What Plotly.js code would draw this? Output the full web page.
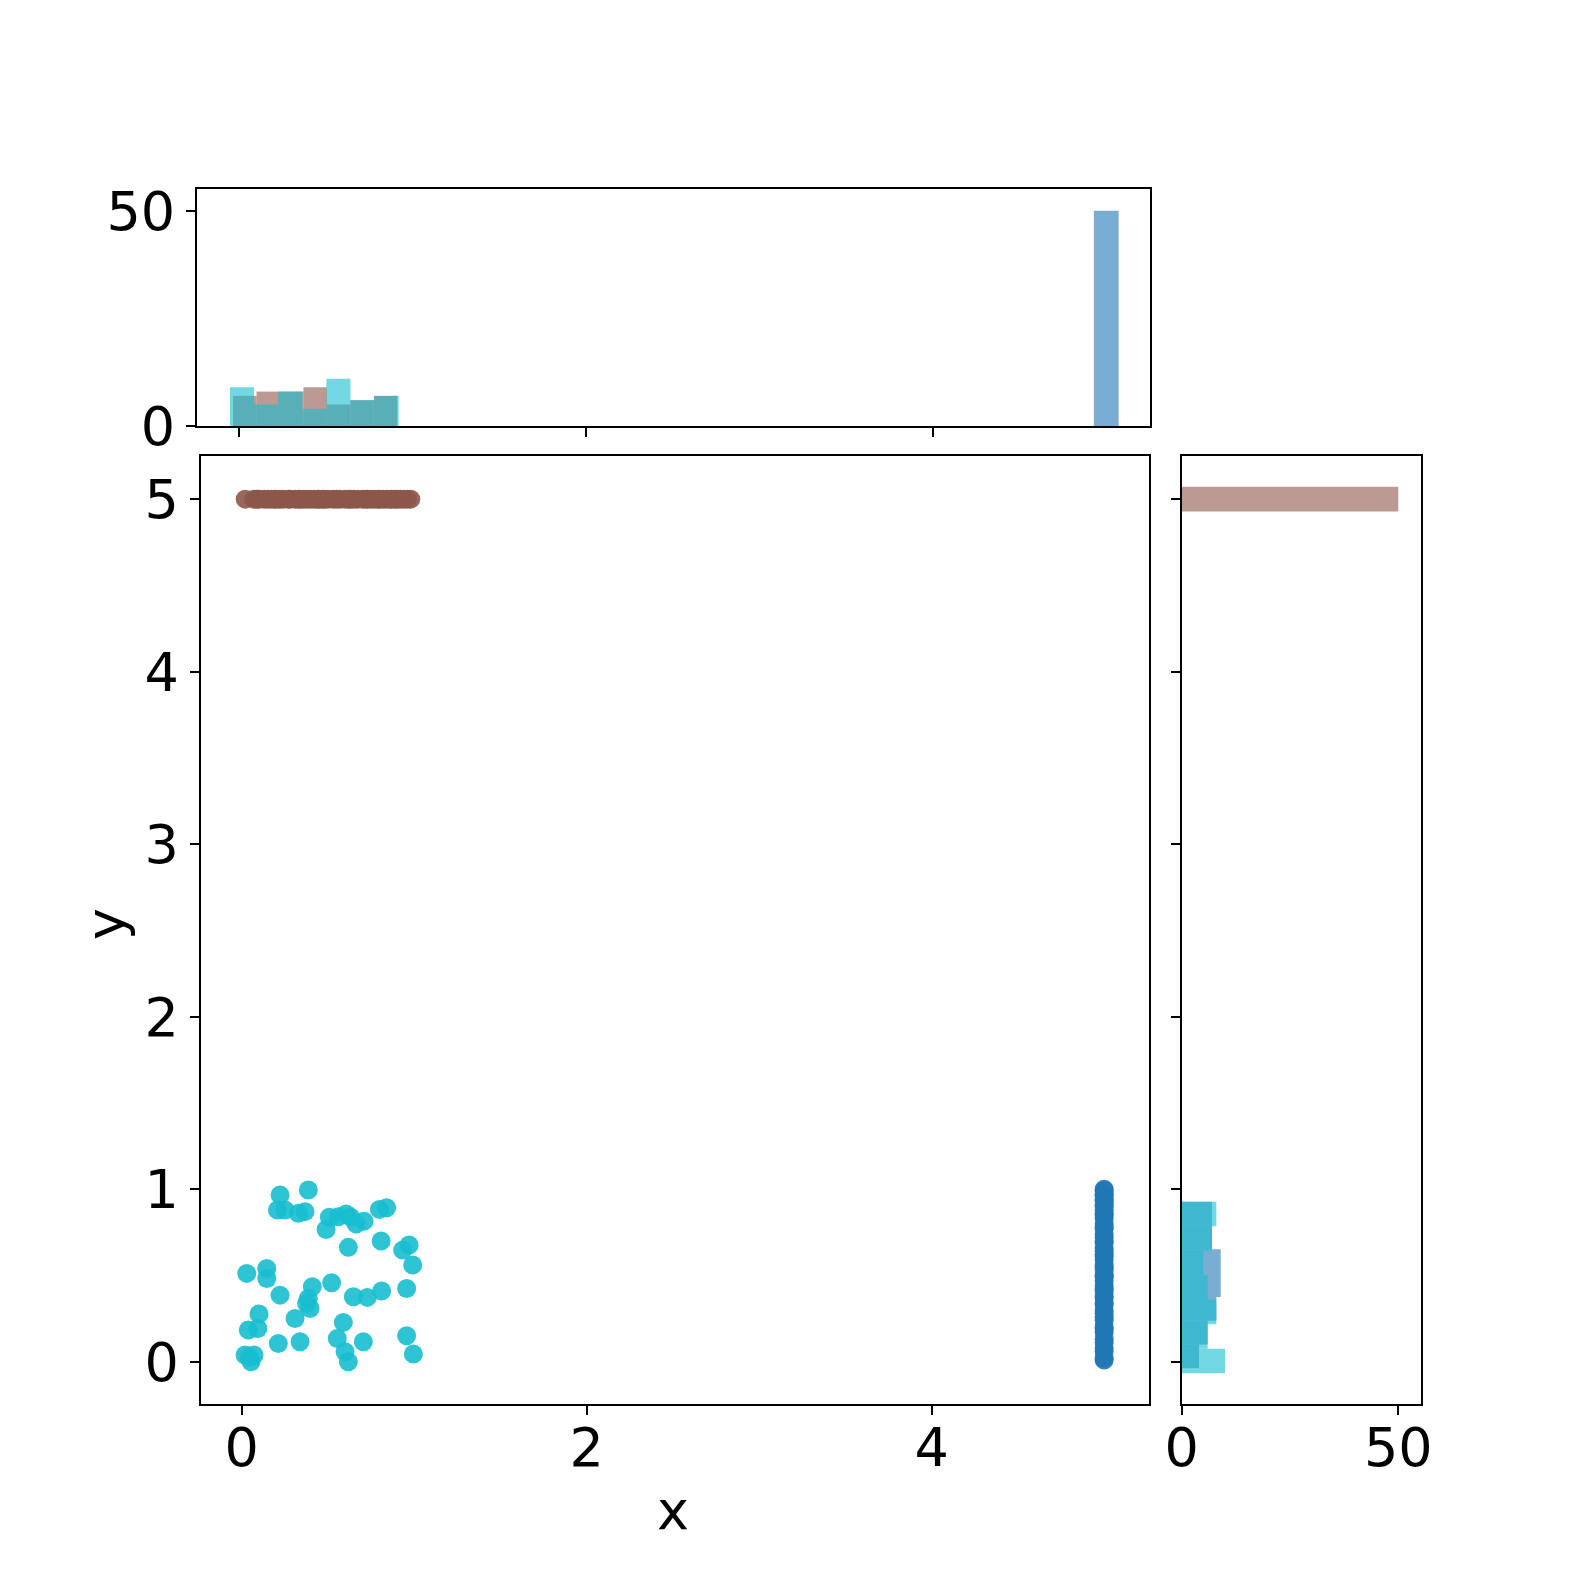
<!DOCTYPE html>
<html>
<head>
<meta charset="utf-8">
<script src="https://cdn.plot.ly/plotly-3.0.1.min.js"></script>
<style>
  html, body { margin: 0; padding: 0; background: #fff; }
  #chart { width: 1578px; height: 1578px; }
</style>
</head>
<body>
<div id="chart"></div>
<script>
// Scatter groups
const cyanX = [0.222, 0.386, 0.207, 0.251, 0.328, 0.367, 0.508, 0.489, 0.560, 0.605,
               0.632, 0.663, 0.709, 0.798, 0.840, 0.618, 0.808, 0.933, 0.970, 0.991,
               0.029, 0.145, 0.145, 0.222, 0.409, 0.386, 0.396, 0.521, 0.647, 0.728,
               0.811, 0.956, 0.100, 0.038, 0.093, 0.309, 0.589, 0.212, 0.338, 0.554,
               0.705, 0.956, 0.995, 0.019, 0.071, 0.054, 0.599, 0.618, 0.376, 0.044];
const cyanY = [0.966, 0.995, 0.879, 0.879, 0.860, 0.870, 0.837, 0.767, 0.840, 0.856,
               0.837, 0.798, 0.815, 0.883, 0.893, 0.663, 0.700, 0.647, 0.677, 0.561,
               0.512, 0.541, 0.483, 0.386, 0.435, 0.367, 0.309, 0.458, 0.377, 0.373,
               0.410, 0.425, 0.277, 0.184, 0.193, 0.251, 0.228, 0.106, 0.116, 0.135,
               0.116, 0.151, 0.045, 0.039, 0.039, 0.000, 0.058, 0.000, 0.338, 0.025];

const brownY = 5;
const brownX = [0.02, 0.07, 0.09, 0.10, 0.13, 0.15, 0.17, 0.19, 0.20, 0.22,
                0.24, 0.27, 0.28, 0.31, 0.33, 0.34, 0.36, 0.38, 0.40, 0.42,
                0.44, 0.45, 0.47, 0.48, 0.50, 0.53, 0.55, 0.57, 0.60, 0.62,
                0.63, 0.65, 0.67, 0.70, 0.72, 0.73, 0.75, 0.77, 0.79, 0.80,
                0.82, 0.84, 0.86, 0.87, 0.89, 0.90, 0.92, 0.94, 0.96, 0.98];

const blueX = 5;
const blueY = [0.01, 0.02, 0.06, 0.08, 0.11, 0.13, 0.17, 0.19, 0.20, 0.24,
               0.26, 0.28, 0.30, 0.33, 0.34, 0.37, 0.38, 0.41, 0.42, 0.44,
               0.47, 0.49, 0.50, 0.53, 0.55, 0.56, 0.59, 0.61, 0.62, 0.64,
               0.66, 0.69, 0.70, 0.72, 0.74, 0.77, 0.78, 0.80, 0.83, 0.85,
               0.86, 0.88, 0.90, 0.91, 0.93, 0.94, 0.96, 0.97, 0.99, 1.00];

// Top histogram (x marginals): bin centres, counts, bin width
const cyanXBins = [0.0155, 0.1545, 0.2935, 0.4325, 0.5715, 0.7105, 0.8495];
const cyanXCounts = [9, 5, 8, 4, 11, 6, 7];
const cyanXWidth = 0.139;
const brownXBins = [0.0317, 0.1670, 0.3023, 0.4376, 0.5729, 0.7082, 0.8435];
const brownXCounts = [7, 8, 8, 9, 5, 6, 7];
const brownXWidth = 0.1353;
const blueXBins = [5.0];
const blueXCounts = [50];
const blueXWidth = 0.1429;

// Right histogram (y marginals)
const cyanYBins = [0.0039, 0.1460, 0.2881, 0.4302, 0.5723, 0.7144, 0.8565];
const cyanYCounts = [10, 6, 8, 6, 5, 7, 8];
const cyanYWidth = 0.1421;
const blueYBins = [0.0307, 0.1687, 0.3067, 0.4447, 0.5827, 0.7207, 0.8587];
const blueYCounts = [4, 6, 8, 9, 9, 7, 7];
const blueYWidth = 0.138;
const brownYBins = [5.0];
const brownYCounts = [50];
const brownYWidth = 0.1429;

const colors = { blue: '#1f77b4', brown: '#8c564b', cyan: '#17becf' };
const W = 1578;

const font = { family: 'DejaVu Sans', size: 54, color: '#000' };

const traces = [
    // main scatter
    { type: 'scatter', mode: 'markers', x: brownX, y: brownX.map(() => brownY),
      marker: { color: colors.brown, size: 19, opacity: 0.9, line: { width: 0 } },
      xaxis: 'x', yaxis: 'y' },
    { type: 'scatter', mode: 'markers', x: blueY.map(() => blueX), y: blueY,
      marker: { color: colors.blue, size: 19, opacity: 0.9, line: { width: 0 } },
      xaxis: 'x', yaxis: 'y' },
    { type: 'scatter', mode: 'markers', x: cyanX, y: cyanY,
      marker: { color: colors.cyan, size: 19, opacity: 0.9, line: { width: 0 } },
      xaxis: 'x', yaxis: 'y' },
    // top histogram
    { type: 'bar', x: blueXBins, y: blueXCounts, width: blueXWidth,
      marker: { color: colors.blue, opacity: 0.6, line: { width: 0 } }, xaxis: 'x2', yaxis: 'y2' },
    { type: 'bar', x: brownXBins, y: brownXCounts, width: brownXWidth,
      marker: { color: colors.brown, opacity: 0.6, line: { width: 0 } }, xaxis: 'x2', yaxis: 'y2' },
    { type: 'bar', x: cyanXBins, y: cyanXCounts, width: cyanXWidth,
      marker: { color: colors.cyan, opacity: 0.6, line: { width: 0 } }, xaxis: 'x2', yaxis: 'y2' },
    // right histogram
    { type: 'bar', orientation: 'h', y: blueYBins, x: blueYCounts, width: blueYWidth,
      marker: { color: colors.blue, opacity: 0.6, line: { width: 0 } }, xaxis: 'x3', yaxis: 'y3' },
    { type: 'bar', orientation: 'h', y: brownYBins, x: brownYCounts, width: brownYWidth,
      marker: { color: colors.brown, opacity: 0.6, line: { width: 0 } }, xaxis: 'x3', yaxis: 'y3' },
    { type: 'bar', orientation: 'h', y: cyanYBins, x: cyanYCounts, width: cyanYWidth,
      marker: { color: colors.cyan, opacity: 0.6, line: { width: 0 } }, xaxis: 'x3', yaxis: 'y3' }
];

const axisBase = {
    showgrid: false, zeroline: false, showline: true, mirror: true,
    linecolor: '#000', linewidth: 2, ticks: 'outside', ticklen: 9, tickwidth: 2,
    tickcolor: '#000', tickfont: font, automargin: false
};

const mainRangeX = [-0.238, 5.26];
const mainRangeY = [-0.245, 5.25];

const layout = {
    width: W, height: W,
    margin: { l: 0, r: 0, t: 0, b: 0 },
    paper_bgcolor: '#fff', plot_bgcolor: '#fff',
    showlegend: false,
    barmode: 'overlay',
    font: font,
    xaxis: Object.assign({}, axisBase, {
        domain: [200.7 / W, 1149 / W], range: mainRangeX,
        tickvals: [0, 2, 4], anchor: 'y', ticklabelstandoff: -14
    }),
    yaxis: Object.assign({}, axisBase, {
        domain: [1 - 1404 / W, 1 - 456 / W], range: mainRangeY,
        tickvals: [0, 1, 2, 3, 4, 5], anchor: 'x'
    }),
    xaxis2: Object.assign({}, axisBase, {
        domain: [197 / W, 1150.3 / W], range: [-0.244, 5.254],
        tickvals: [0, 2, 4], showticklabels: false, anchor: 'y2'
    }),
    yaxis2: Object.assign({}, axisBase, {
        domain: [1 - 426 / W, 1 - 189.3 / W], range: [0, 55],
        tickvals: [0, 50], anchor: 'x2'
    }),
    xaxis3: Object.assign({}, axisBase, {
        domain: [1181.7 / W, 1420.7 / W], range: [0, 55.17],
        tickvals: [0, 50], anchor: 'y3', ticklabelstandoff: -14
    }),
    yaxis3: Object.assign({}, axisBase, {
        domain: [1 - 1404 / W, 1 - 456 / W], range: mainRangeY,
        tickvals: [0, 1, 2, 3, 4, 5], showticklabels: false, anchor: 'x3'
    }),
    annotations: [
        { text: 'x', xref: 'paper', yref: 'paper', x: 673 / W, y: 1 - 1510 / W,
          showarrow: false, font: font, xanchor: 'center', yanchor: 'middle' },
        { text: 'y', xref: 'paper', yref: 'paper', x: 105 / W, y: 1 - 924 / W,
          showarrow: false, font: font, textangle: -90, xanchor: 'center', yanchor: 'middle' }
    ]
};

Plotly.newPlot('chart', traces, layout, { displayModeBar: false, staticPlot: true });
</script>
</body>
</html>
